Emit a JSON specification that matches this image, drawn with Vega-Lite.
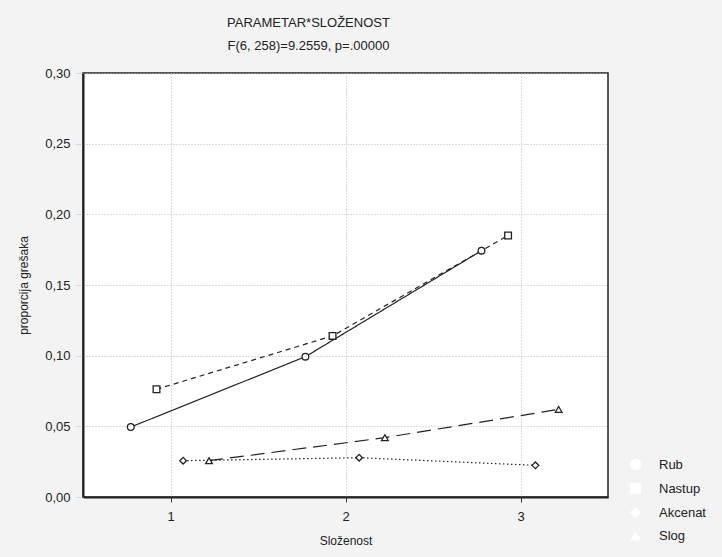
{
  "$schema": "https://vega.github.io/schema/vega-lite/v6.json",
  "autosize": {"type": "none"},
  "width": 525,
  "height": 424,
  "padding": {"left": 83, "top": 73, "right": 114, "bottom": 60},
  "background": "#f3f3f3",
  "title": {
    "text": "PARAMETAR*SLOŽENOST",
    "subtitle": "F(6, 258)=9.2559, p=.00000",
    "anchor": "middle",
    "frame": "group",
    "dx": -37,
    "offset": 14,
    "font": "Liberation Sans",
    "fontSize": 13,
    "fontWeight": "normal",
    "color": "#222",
    "subtitleFont": "Liberation Sans",
    "subtitleFontSize": 13,
    "subtitleColor": "#222",
    "subtitlePadding": 10
  },
  "config": {
    "view": {"fill": "white", "stroke": "#222", "strokeWidth": 1.5},
    "axis": {
      "labelFont": "Liberation Sans",
      "labelFontSize": 13,
      "labelColor": "#222",
      "titleFont": "Liberation Sans",
      "titleFontSize": 12,
      "titleFontWeight": "normal",
      "titleColor": "#222",
      "grid": true,
      "gridColor": "#b8b8b8",
      "gridDash": [1, 2],
      "gridWidth": 1,
      "domainColor": "#222",
      "domainWidth": 2
    },
    "legend": {
      "title": null,
      "orient": "none",
      "legendX": 546,
      "legendY": 385,
      "symbolSize": 130,
      "symbolFillColor": "white",
      "symbolStrokeColor": "#222",
      "symbolStrokeWidth": 1.5,
      "labelFont": "Liberation Sans",
      "labelFontSize": 13,
      "labelColor": "#222",
      "labelOffset": 17,
      "rowPadding": 5
    }
  },
  "data": {
    "values": [
      {"series": "Rub", "x": 0.773, "y": 0.0495},
      {"series": "Rub", "x": 1.771, "y": 0.0993},
      {"series": "Rub", "x": 2.777, "y": 0.1743},
      {"series": "Nastup", "x": 0.92, "y": 0.0762},
      {"series": "Nastup", "x": 1.926, "y": 0.114},
      {"series": "Nastup", "x": 2.929, "y": 0.185},
      {"series": "Akcenat", "x": 1.072, "y": 0.0257},
      {"series": "Akcenat", "x": 2.078, "y": 0.0278},
      {"series": "Akcenat", "x": 3.085, "y": 0.0224},
      {"series": "Slog", "x": 1.22, "y": 0.0257},
      {"series": "Slog", "x": 2.225, "y": 0.042},
      {"series": "Slog", "x": 3.218, "y": 0.062}
    ]
  },
  "encoding": {
    "x": {
      "field": "x",
      "type": "quantitative",
      "scale": {"domain": [0.5, 3.5], "nice": false, "zero": false},
      "axis": {
        "title": "Složenost",
        "values": [1, 2, 3],
        "format": "d",
        "tickColor": "#333",
        "tickSize": 5,
        "labelPadding": 8,
        "titlePadding": 12
      }
    },
    "y": {
      "field": "y",
      "type": "quantitative",
      "scale": {"domain": [0, 0.3], "nice": false},
      "axis": {
        "title": "proporcija grešaka",
        "values": [0, 0.05, 0.1, 0.15, 0.2, 0.25, 0.3],
        "labelExpr": "replace(format(datum.value, '.2f'), '.', ',')",
        "tickColor": "#aaa",
        "tickDash": [1, 2],
        "tickSize": 9,
        "labelPadding": 4,
        "titlePadding": 14
      }
    }
  },
  "layer": [
    {
      "mark": {"type": "line", "color": "#222", "strokeWidth": 1.2},
      "encoding": {
        "detail": {"field": "series"},
        "order": {"field": "x", "type": "quantitative"},
        "strokeDash": {
          "field": "series",
          "type": "nominal",
          "scale": {
            "domain": ["Rub", "Nastup", "Akcenat", "Slog"],
            "range": [[1, 0], [5, 4], [1.5, 2.5], [14, 7]]
          }
        }
      }
    },
    {
      "mark": {"type": "point", "filled": true, "fill": "white", "stroke": "#222", "strokeWidth": 1.3, "size": 45, "opacity": 1},
      "encoding": {
        "shape": {
          "field": "series",
          "type": "nominal",
          "scale": {
            "domain": ["Rub", "Nastup", "Akcenat", "Slog"],
            "range": ["circle", "square", "diamond", "triangle-up"]
          },
          "legend": {
            "encode": {
              "symbols": {
                "fill": {"value": "white"},
                "stroke": {"value": "#222"},
                "strokeWidth": {"value": 1.5},
                "opacity": {"value": 1}
              }
            }
          }
        }
      }
    }
  ]
}
